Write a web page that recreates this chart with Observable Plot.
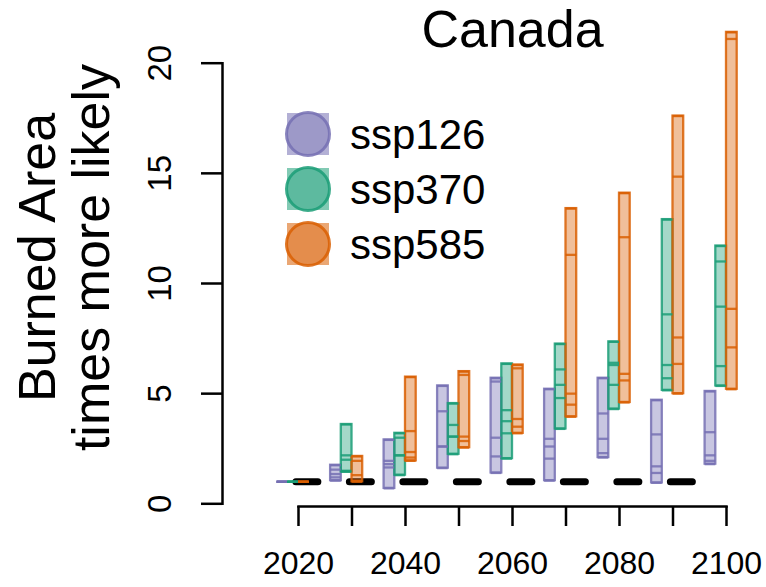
<!DOCTYPE html>
<html><head><meta charset="utf-8">
<script src="https://cdn.jsdelivr.net/npm/d3@7"></script>
<script src="https://cdn.jsdelivr.net/npm/@observablehq/plot@0.6"></script>
<style>
body{margin:0;background:#fff;}
#wrap{position:relative;width:766px;height:587px;font-family:"Liberation Sans",Arial,Helvetica,sans-serif;}
#legend{position:absolute;left:0;top:0;pointer-events:none;}
</style></head><body><div id="wrap"></div>
<script>
// ---- data ----
const title = "Canada";
const yLabel = ["Burned Area", "times more likely"];
const years = [2020, 2030, 2040, 2050, 2060, 2070, 2080, 2090, 2100];
const xTickLabels = [2020, 2040, 2060, 2080, 2100];
const yTicks = [0, 5, 10, 15, 20];
const scenarios = ["ssp126", "ssp370", "ssp585"];
const colors = ["#7570b3", "#1b9e77", "#d95f02"];
// five model values per decade (box spans min..max, a line at each value)
const ssp126 = [
  [1, 1, 1, 1, 1],
  [1.05, 1.2, 1.35, 1.55, 1.75],
  [0.7, 1.65, 1.8, 1.95, 2.9],
  [1.62, 2.6, 2.6, 4.2, 5.35],
  [1.4, 2.15, 3.0, 5.55, 5.7],
  [1.05, 2.05, 2.6, 2.95, 5.2],
  [2.1, 2.3, 2.95, 4.1, 5.7],
  [0.95, 1.4, 1.7, 3.15, 4.7],
  [1.8, 1.95, 2.2, 3.25, 5.1]
];
const ssp370 = [
  [1, 1, 1, 1, 1],
  [1.45, 1.5, 2.0, 2.2, 3.6],
  [1.3, 2.2, 2.2, 3.0, 3.2],
  [2.25, 3.05, 3.05, 3.58, 4.55],
  [2.05, 3.2, 3.75, 4.25, 6.35],
  [3.4, 4.8, 5.4, 6.1, 7.25],
  [4.3, 5.4, 6.3, 6.4, 7.35],
  [5.15, 5.7, 6.3, 8.6, 12.9],
  [5.35, 6.25, 8.95, 11.0, 11.7]
];
const ssp585 = [
  [1, 1, 1, 1, 1],
  [1.0, 1.05, 1.3, 1.95, 2.15],
  [1.95, 2.1, 2.35, 3.3, 5.75],
  [2.55, 2.85, 3.05, 5.85, 6.0],
  [3.2, 3.5, 3.85, 6.15, 6.3],
  [3.95, 4.5, 5.0, 11.3, 13.4],
  [4.6, 5.6, 5.9, 12.1, 14.1],
  [5.0, 6.35, 7.55, 14.85, 17.6],
  [5.2, 7.1, 8.85, 21.1, 21.4]
];
const referenceLevel = 1;
const referenceSpan = [2019.6, 2094.5];

// ---- build tables ----
const seriesValues = [ssp126, ssp370, ssp585];
const xOffset = {ssp126: -3, ssp370: -1, ssp585: 1};
const halfWidth = 1;
const boxes = [];
const lines = [];
scenarios.forEach((s, si) => {
  seriesValues[si].forEach((vals, i) => {
    const year = years[i];
    boxes.push({scenario: s, year, min: d3.min(vals), max: d3.max(vals)});
    vals.forEach(v => lines.push({scenario: s, year, value: v}));
  });
});
const bx1 = d => d.year + xOffset[d.scenario] - halfWidth;
const bx2 = d => d.year + xOffset[d.scenario] + halfWidth;

const font = '"Liberation Sans", Arial, Helvetica, sans-serif';
const chart = Plot.plot({
  width: 766, height: 587,
  marginLeft: 298, marginRight: 40, marginTop: 62.7, marginBottom: 83.7,
  x: {domain: [2020, 2100]},
  y: {domain: [0, 20]},
  color: {domain: scenarios, range: colors},
  style: {fontFamily: font, background: "white", color: "black"},
  marks: [
    Plot.frame({anchor: "bottom", dy: 2.7, strokeWidth: 2.5, stroke: "black"}),
    Plot.frame({anchor: "left", dx: -76, strokeWidth: 2.5, stroke: "black"}),
    Plot.axisX({ticks: years, tickFormat: d => xTickLabels.includes(d) ? String(d) : "", tickSize: 20, tickPadding: 25, fontSize: 32, dy: 2.7, label: null, strokeWidth: 2.5}),
    Plot.axisY({ticks: yTicks, tickFormat: () => "", tickSize: 21, dx: -76, label: null, strokeWidth: 2.5}),
    Plot.text(yTicks, {y: d => d, text: d => String(d), frameAnchor: "left", dx: -138, rotate: -90, fontSize: 33, lineAnchor: "middle", textAnchor: "middle"}),
    Plot.text([title], {frameAnchor: "top", dy: -32.6, fontSize: 52, lineAnchor: "middle"}),
    Plot.text([yLabel.join("\n")], {frameAnchor: "left", dx: -234, dy: -26, rotate: -90, fontSize: 52, lineHeight: 1.05, lineAnchor: "middle", textAnchor: "middle"}),
    Plot.ruleY([referenceLevel], {x1: referenceSpan[0], x2: referenceSpan[1], stroke: "black", strokeWidth: 7, strokeDasharray: "22,31.5", strokeLinecap: "round"}),
    Plot.rect(boxes, {x1: bx1, x2: bx2, y1: "min", y2: "max", fill: "scenario", fillOpacity: 0.4, stroke: "scenario", strokeOpacity: 0.85, strokeWidth: 2.3}),
    Plot.ruleY(lines, {y: "value", x1: bx1, x2: bx2, stroke: "scenario", strokeOpacity: 0.85, strokeWidth: 2.3})
  ]
});
const wrap = document.getElementById("wrap");
wrap.appendChild(chart);

// ---- legend (overlay inside the plot area) ----
const leg = d3.select(wrap).append("svg").attr("id", "legend").attr("width", 766).attr("height", 587);
const lx = 308, ly0 = 134, lstep = 55;
scenarios.forEach((s, i) => {
  const g = leg.append("g").attr("transform", `translate(${lx},${ly0 + i * lstep})`);
  g.append("rect").attr("x", -21).attr("y", -21).attr("width", 42).attr("height", 42)
    .attr("fill", colors[i]).attr("fill-opacity", 0.55);
  g.append("circle").attr("r", 21.5).attr("fill", colors[i]).attr("fill-opacity", 0.35)
    .attr("stroke", colors[i]).attr("stroke-opacity", 0.85).attr("stroke-width", 3);
  g.append("text").attr("x", 42).attr("y", 0).attr("dy", "0.36em")
    .attr("font-family", font).attr("font-size", 42).attr("fill", "black").text(s);
});
</script></body></html>
